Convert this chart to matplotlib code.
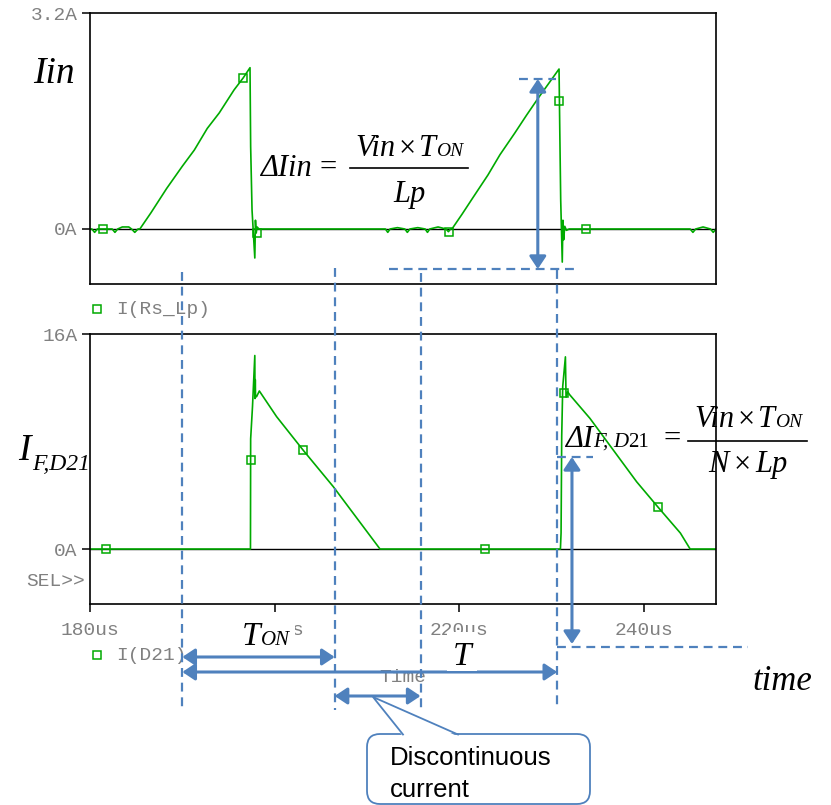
import matplotlib
matplotlib.use("Agg")
import matplotlib.pyplot as plt
import matplotlib.transforms as mtransforms
from matplotlib.patches import FancyArrowPatch, FancyBboxPatch, Polygon, Rectangle

W, H = 831, 805
GREEN = "#00aa00"
BLUE = "#4f81bd"
GREY = "#808080"
SERIF = "Liberation Serif"
MONO = "Liberation Mono"
SANS = "Liberation Sans"

# primary current I(Rs_Lp): time (us) / current (A)
iin_t = [180.0, 180.2, 180.5, 180.8, 182.4, 182.7, 183.0, 183.5, 184.2, 184.5, 184.85, 185.2,
         185.4, 186.6, 188.3, 190.0, 191.3, 192.7, 194.0, 195.6, 196.6, 197.33,
         197.40, 197.55, 197.85, 197.92, 198.0, 198.1, 198.3,
         212.0, 212.25, 212.5, 213.3, 214.1, 214.37, 214.65, 215.5, 216.3, 216.55, 216.8,
         217.7, 218.55, 218.82, 219.05,
         219.2, 220.3, 221.5, 223.1, 224.4, 226.0, 227.3, 228.6, 229.7, 230.8,
         230.88, 230.98, 231.15, 231.22, 231.3, 231.42, 231.6, 231.9,
         245.0, 245.3, 245.6, 246.4, 247.2, 247.5, 247.8]
iin_a = [0.0, 0.0, -0.05, 0.0, 0.0, -0.05, 0.0, 0.03, 0.03, 0.0, -0.05, 0.0,
         0.0, 0.24, 0.60, 0.93, 1.17, 1.49, 1.72, 2.06, 2.24, 2.39,
         1.22, 0.28, -0.43, 0.13, -0.06, 0.03, 0.0,
         0.0, -0.05, 0.0, 0.02, 0.0, -0.05, 0.0, 0.02, 0.0, -0.05, 0.0,
         0.03, 0.0, -0.04, 0.0,
         0.0, 0.22, 0.47, 0.80, 1.10, 1.42, 1.69, 1.95, 2.16, 2.37,
         1.47, 0.43, -0.49, 0.13, -0.16, 0.04, -0.02, 0.0,
         0.0, -0.05, 0.0, 0.03, 0.0, -0.05, 0.0]
iin_mark_t = [181.4, 196.6, 198.05, 218.9, 230.85, 233.7]
iin_mark_a = [0.0, 2.24, -0.06, -0.04, 1.90, 0.0]

# secondary diode current I(D21)
id21_t = [180.0, 197.38, 197.40, 197.60, 197.85, 197.87, 197.90, 197.93, 198.05, 198.34,
          200.21, 203.07, 206.35, 209.60, 211.41,
          230.95, 231.02, 231.09, 231.20, 231.49, 231.56, 231.74, 231.93, 234.15,
          239.21, 241.48, 243.94, 245.0, 247.8]
id21_a = [0.0, 0.0, 8.2, 10.6, 14.4, 11.2, 12.6, 11.3, 11.35, 11.76,
          9.85, 7.37, 4.64, 1.66, 0.0,
          0.0, 1.2, 8.4, 12.1, 14.3, 11.3, 11.7, 11.5, 9.72,
          5.0, 3.15, 1.19, 0.0, 0.0]
id21_mark_t = [181.73, 197.39, 203.07, 222.78, 231.3, 241.48]
id21_mark_a = [0.0, 6.62, 7.37, 0.0, 11.6, 3.15]

x_ticks = [180, 200, 220, 240]
x_tick_labels = ["180us", "200us", "220us", "240us"]
iin_ticks = [0, 3.2]
iin_tick_labels = ["0A", "3.2A"]
id21_ticks = [0, 16]
id21_tick_labels = ["0A", "16A"]

# switching instants for the timing guides (us)
t_on_start = 190.0
t_on_end = 206.5
t_dcm_end = 215.8
t_period_end = 230.6
t_dIin = 228.5
t_dIf = 232.2

plt.rcParams["font.family"] = MONO

fig = plt.figure(figsize=(W / 100, H / 100), dpi=100)
fig.patch.set_facecolor("white")


def px_axes(left, top, right, bottom, **kw):
    return fig.add_axes([left / W, 1 - bottom / H, (right - left) / W, (bottom - top) / H], **kw)


ax_top = px_axes(90, 13, 716, 284)
ax_bot = px_axes(90, 334, 716, 604)

panels = [
    (ax_top, iin_t, iin_a, iin_mark_t, iin_mark_a, iin_ticks, iin_tick_labels, (-0.815, 3.2)),
    (ax_bot, id21_t, id21_a, id21_mark_t, id21_mark_a, id21_ticks, id21_tick_labels, (-4.09, 16)),
]
for ax, t, a, mt, ma, yt, yl, ylim in panels:
    ax.axhline(0, color="black", lw=1.0, zorder=1)
    ax.plot(t, a, color=GREEN, lw=1.2, zorder=2)
    ax.plot(mt, ma, ls="none", marker="s", ms=5.5, mfc="none", mec=GREEN, mew=1.1, zorder=3)
    ax.set_xlim(180, 247.8)
    ax.set_ylim(*ylim)
    ax.set_yticks(yt, yl)
    ax.tick_params(axis="y", direction="out", length=6, width=1.1, pad=3,
                   labelsize=14, labelcolor=GREY)
    for sp in ax.spines.values():
        sp.set_linewidth(1.2)

ax_top.set_xticks([])
ax_bot.set_xticks(x_ticks, x_tick_labels)
ax_bot.tick_params(axis="x", direction="out", length=6, width=1.1, pad=7,
                   labelsize=14, labelcolor=GREY)
ax_bot.set_xlabel("Time", fontsize=14, color=GREY, va="center")
ax_bot.xaxis.set_label_coords(0.5, -(678 - 604) / 270)

# annotation layer in pixel units (y down)
ov = fig.add_axes([0, 0, 1, 1], zorder=5)
ov.set_autoscale_on(False)
ov.set_xlim(0, W)
ov.set_ylim(H, 0)
ov.axis("off")
ov.patch.set_visible(False)
tx = mtransforms.blended_transform_factory(ax_bot.transData, ov.transData)
renderer = fig.canvas.get_renderer()

DASH = (0, (4, 2.6))


def dashed(xs, ys):
    ov.plot(xs, ys, transform=tx, color=BLUE, lw=1.6, ls=DASH, zorder=4)


def arrow(p0, p1, style="<|-|>"):
    ov.add_patch(FancyArrowPatch(p0, p1, transform=tx,
                                 arrowstyle=f"{style},head_length=7.5,head_width=5",
                                 mutation_scale=1, lw=2.2, color=BLUE,
                                 shrinkA=0, shrinkB=0, zorder=6))


def run(x, y, parts, align="left"):
    # lay out italic/roman pieces side by side on one baseline
    objs, cur = [], 0.0
    for s, size, style, gap in parts:
        cur += gap
        txt = ov.text(cur, y, s, fontsize=size, style=style, family=SERIF,
                      va="baseline", ha="left", zorder=8)
        objs.append((txt, cur))
        cur += txt.get_window_extent(renderer).width
    x0 = x - cur / 2 if align == "center" else x
    for txt, off in objs:
        txt.set_x(x0 + off)


# vertical timing guides
for t_g, y_top in ((t_on_start, 272), (t_on_end, 268), (t_dcm_end, 273), (t_period_end, 270)):
    dashed([t_g, t_g], [y_top, 710])

# horizontal reference levels
dashed([226.45, 230.45], [79, 79])
dashed([212.4, 232.85], [269, 269])
dashed([230.6, 234.5], [457, 457])
dashed([230.6, 251.3], [647, 647])

arrow((t_dIin, 79), (t_dIin, 269))
arrow((t_dIf, 457), (t_dIf, 644))
arrow((t_on_start, 657), (t_on_end, 657))
arrow((t_on_start, 672), (t_period_end, 672))
arrow((t_on_end, 696), (t_dcm_end, 696))

# white patches behind the period labels
ov.add_patch(Rectangle((236, 619), 59, 31, fc="white", ec="none", zorder=5))
ov.add_patch(Rectangle((447, 632), 30, 39, fc="white", ec="none", zorder=7))

# trace legends and cursor text
ov.plot([97], [309], marker="s", ms=5.5, mfc="none", mec=GREEN, mew=1.1, zorder=4)
ov.text(116, 309, "I(Rs_Lp)", fontsize=14, color=GREY, va="center", zorder=3)
ov.plot([97], [655], marker="s", ms=5.5, mfc="none", mec=GREEN, mew=1.1, zorder=4)
ov.text(116, 655, "I(D21)", fontsize=14, color=GREY, va="center", zorder=3)
ov.text(85, 581, "SEL>>", fontsize=14, color=GREY, va="center", ha="right", zorder=3)

# waveform names
run(33, 83, [("Iin", 27, "italic", 0)])
run(18, 460, [("I", 27, "italic", 0)])
run(32, 470, [("F,D21", 17, "italic", 0)])

# delta Iin = Vin x Ton / Lp
run(260, 176, [("\u0394Iin", 22, "italic", 0)])
ov.text(328, 176, "=", fontsize=22, family=SERIF, ha="center", va="baseline", zorder=8)
ov.plot([350, 468], [168, 168], color="black", lw=1.2, zorder=8)
run(409, 156, [("Vin", 22, "italic", 0), ("\u00d7", 22, "normal", 3),
               ("T", 22, "italic", 3), ("ON", 14, "italic", 0)], align="center")
run(409, 202, [("Lp", 22, "italic", 0)], align="center")

# delta If = Vin x Ton / (N x Lp)
run(565, 447, [("\u0394I", 22, "italic", 0), ("F,", 15, "italic", 0),
               ("D", 15, "italic", 5), ("21", 15, "normal", 0)])
ov.text(672, 447, "=", fontsize=22, family=SERIF, ha="center", va="baseline", zorder=8)
ov.plot([688, 807], [441, 441], color="black", lw=1.2, zorder=8)
run(748, 427, [("Vin", 22, "italic", 0), ("\u00d7", 22, "normal", 3),
               ("T", 22, "italic", 3), ("ON", 14, "italic", 0)], align="center")
run(748, 472, [("N", 22, "italic", 0), ("\u00d7", 22, "normal", 5),
               ("Lp", 22, "italic", 5)], align="center")

# period labels
run(242, 645, [("T", 24, "italic", 0), ("ON", 15, "italic", 0)])
run(462, 665, [("T", 24, "italic", 0)], align="center")
run(752, 690, [("time", 25, "italic", 0)])

# callout for the idle interval
ov.add_patch(FancyBboxPatch((367, 734), 223, 70, boxstyle="round,pad=0,rounding_size=13",
                            fc="white", ec=BLUE, lw=1.3, zorder=6))
ov.add_patch(Polygon([(403, 736.5), (373, 697), (458, 736.5)], closed=True,
                     fc="white", ec="none", zorder=6.5))
ov.plot([403, 373, 458], [734.5, 697, 734.5], color=BLUE, lw=1.3, zorder=6.6)
ov.text(390, 765, "Discontinuous", fontsize=18.5, family=SANS, va="baseline", zorder=8)
ov.text(390, 797, "current", fontsize=18.5, family=SANS, va="baseline", zorder=8)

fig.savefig("out.png", dpi=100, facecolor="white")
